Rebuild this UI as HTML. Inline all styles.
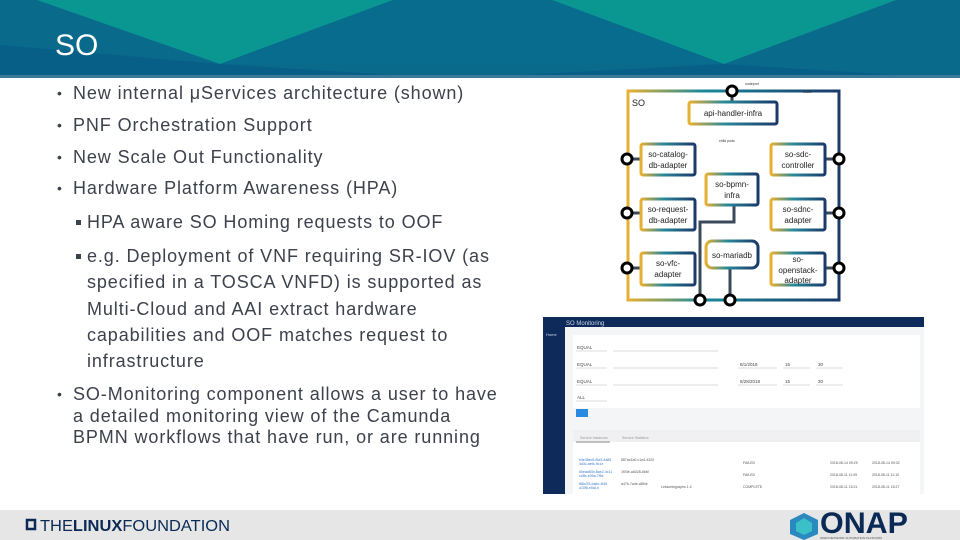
<!DOCTYPE html>
<html><head><meta charset="utf-8"><style>
body{margin:0;width:960px;height:540px;position:relative;overflow:hidden;background:#fff;font-family:"Liberation Sans",sans-serif}
.t{position:absolute;white-space:nowrap;color:#3c414b;font-size:18px;line-height:20px;letter-spacing:0.9px}
.b{position:absolute;color:#3c414b;font-size:14px;line-height:20px}
.s{position:absolute;width:5px;height:5px;background:#3c414b}
</style></head><body>
<svg width="960" height="78" style="position:absolute;left:0;top:0">
<rect width="960" height="78" fill="#0a6a8c"/>
<polygon points="0,0 37,0 220,64 0,40" fill="#0a6a8c"/>
<polygon points="37,0 393,0 220,64" fill="#0a9791"/>
<polygon points="552,0 896,0 724,64" fill="#0a9791"/>
<polygon points="0,75 0,45 220,64 393,75" fill="#075f88"/>
<polygon points="520,75 724,64 896,75" fill="#075f88"/>
<polygon points="393,0 552,0 724,64 220,64" fill="#086c8e"/>
<rect y="75" width="960" height="3" fill="#3a7a98"/>
<text x="55" y="55" fill="#fff" font-family="Liberation Sans" font-size="30">SO</text>
</svg>

<div class="b" style="left:57px;top:83px">•</div><div class="t" style="left:73px;top:83px">New internal μServices architecture (shown)</div>
<div class="b" style="left:57px;top:115px">•</div><div class="t" style="left:73px;top:115px">PNF Orchestration Support</div>
<div class="b" style="left:57px;top:147px">•</div><div class="t" style="left:73px;top:147px">New Scale Out Functionality</div>
<div class="b" style="left:57px;top:178px">•</div><div class="t" style="left:73px;top:178px">Hardware Platform Awareness (HPA)</div>
<div class="s" style="left:76px;top:220px"></div><div class="t" style="left:87px;top:212px">HPA aware SO Homing requests to OOF</div>
<div class="s" style="left:76px;top:254px"></div><div class="t" style="left:87px;top:246px">e.g. Deployment of VNF requiring SR-IOV (as</div>
<div class="t" style="left:87px;top:272px">specified in a TOSCA VNFD) is supported as</div>
<div class="t" style="left:87px;top:299px">Multi-Cloud and AAI extract hardware</div>
<div class="t" style="left:87px;top:325px">capabilities and OOF matches request to</div>
<div class="t" style="left:87px;top:351px">infrastructure</div>
<div class="b" style="left:57px;top:384px">•</div><div class="t" style="left:73px;top:384px">SO-Monitoring component allows a user to have</div>
<div class="t" style="left:73px;top:406px">a detailed monitoring view of the Camunda</div>
<div class="t" style="left:73px;top:427px">BPMN workflows that have run, or are running</div>

<svg width="960" height="540" style="position:absolute;left:0;top:0" font-family="Liberation Sans">
<defs><linearGradient id="g" x1="0" x2="1" y1="0" y2="0"><stop offset="0" stop-color="#e8b030"/><stop offset="0.35" stop-color="#1a8a9a"/><stop offset="1" stop-color="#1a3a6a"/></linearGradient>
<linearGradient id="g2" x1="0" x2="1"><stop offset="0" stop-color="#e8b030"/><stop offset="0.4" stop-color="#2a8a9a"/><stop offset="1" stop-color="#1a3a6a"/></linearGradient></defs>
<rect x="628" y="91" width="211" height="209" fill="none" stroke="url(#g)" stroke-width="3"/>
<g stroke="#3a4a5a" stroke-width="3" fill="none">
<line x1="732" y1="91" x2="732" y2="101"/>
<line x1="628" y1="159" x2="640" y2="159"/><line x1="628" y1="213" x2="640" y2="213"/><line x1="628" y1="268" x2="640" y2="268"/>
<line x1="825" y1="159" x2="839" y2="159"/><line x1="825" y1="213" x2="839" y2="213"/><line x1="825" y1="268" x2="839" y2="268"/>
<polyline points="734,205 734,222 700,222 700,300"/>
<line x1="730" y1="268" x2="730" y2="300"/>
</g>
<g fill="#fff" stroke="url(#g2)" stroke-width="3">
<rect x="689" y="102" width="88" height="22" rx="2"/>
<rect x="641" y="144" width="54" height="31" rx="2"/>
<rect x="771" y="144" width="54" height="31" rx="2"/>
<rect x="706" y="174" width="52" height="31" rx="2"/>
<rect x="641" y="199" width="54" height="31" rx="2"/>
<rect x="771" y="199" width="54" height="31" rx="2"/>
<rect x="641" y="253" width="54" height="32" rx="2"/>
<rect x="706" y="241" width="52" height="27" rx="6"/>
<rect x="771" y="253" width="54" height="32" rx="2"/>
</g>
<g fill="#fff" stroke="#000" stroke-width="3">
<circle cx="732" cy="91" r="5"/>
<circle cx="627" cy="159" r="5"/><circle cx="627" cy="213" r="5"/><circle cx="627" cy="268" r="5"/>
<circle cx="839" cy="159" r="5"/><circle cx="839" cy="213" r="5"/><circle cx="839" cy="268" r="5"/>
<circle cx="700" cy="300" r="5"/><circle cx="730" cy="300" r="5"/>
</g>
<g font-size="8" fill="#222" text-anchor="middle">
<text x="733" y="116">api-handler-infra</text>
<text x="668" y="157">so-catalog-</text><text x="668" y="168">db-adapter</text>
<text x="798" y="157">so-sdc-</text><text x="798" y="168">controller</text>
<text x="732" y="187">so-bpmn-</text><text x="732" y="198">infra</text>
<text x="668" y="212">so-request-</text><text x="668" y="223">db-adapter</text>
<text x="798" y="212">so-sdnc-</text><text x="798" y="223">adapter</text>
<text x="668" y="266">so-vfc-</text><text x="668" y="277">adapter</text>
<text x="732" y="258">so-mariadb</text>
<text x="798" y="262">so-</text><text x="798" y="273">openstack-</text><text x="798" y="283">adapter</text>
</g>
<text x="632" y="106" font-size="9" fill="#222">SO</text>
<g font-size="3.5" fill="#333"><text x="745" y="85">nodeport</text><text x="803" y="93">router</text><text x="719" y="142">child pods</text></g>

<rect x="543" y="317" width="381" height="177" fill="#f4f5f7"/>
<rect x="543" y="317" width="381" height="10" fill="#0d2a5a"/>
<rect x="543" y="317" width="22" height="177" fill="#0d2a5a"/>
<text x="566" y="325" font-size="6" fill="#cfd8e8">SO Monitoring</text>
<text x="546" y="336" font-size="4" fill="#cfd8e8">Home</text>
<rect x="573" y="335" width="347" height="73" fill="#fff"/>
<rect x="576" y="409" width="12" height="8" fill="#2a8ae0"/>
<g stroke="#bbb" stroke-width="0.5">
<line x1="576" y1="351" x2="607" y2="351"/><line x1="613" y1="351" x2="718" y2="351"/>
<line x1="576" y1="368" x2="607" y2="368"/><line x1="613" y1="368" x2="718" y2="368"/>
<line x1="576" y1="385" x2="607" y2="385"/><line x1="613" y1="385" x2="718" y2="385"/>
<line x1="576" y1="401" x2="607" y2="401"/>
<line x1="738" y1="368" x2="777" y2="368"/><line x1="783" y1="368" x2="810" y2="368"/><line x1="816" y1="368" x2="843" y2="368"/>
<line x1="738" y1="385" x2="777" y2="385"/><line x1="783" y1="385" x2="810" y2="385"/><line x1="816" y1="385" x2="843" y2="385"/>
</g>
<g font-size="4.5" fill="#444"><text x="577" y="349">EQUAL</text><text x="577" y="366">EQUAL</text><text x="577" y="383">EQUAL</text><text x="577" y="399">ALL</text>
<text x="740" y="366">8/1/2018</text><text x="740" y="383">8/28/2018</text><text x="785" y="366">15</text><text x="785" y="383">15</text><text x="818" y="366">30</text><text x="818" y="383">30</text></g>
<rect x="573" y="430" width="347" height="64" fill="#fff"/>
<rect x="573" y="430" width="347" height="12" fill="#f0f0f2"/>
<line x1="576" y1="442" x2="610" y2="442" stroke="#888"/>
<g font-size="3.5" fill="#999"><text x="580" y="439">Service Instances</text><text x="622" y="439">Service Statistics</text></g>
<g font-size="3.5" fill="#3a7ad0"><text x="579" y="461">b3e38ec5-f6e3-4a85</text><text x="579" y="465">4d3c-aef4-9c1e</text><text x="579" y="473">60ead83b-8ae2-4c11</text><text x="579" y="477">cd5e-b09a-7f5e</text><text x="579" y="485">f88c2f3-ba6c-4f45</text><text x="579" y="489">a10f8-e5a1d</text></g>
<g font-size="3.5" fill="#555"><text x="621" y="461">587ac1a0-c1e4-4320</text><text x="621" y="473">1f03e-a6028-6b6f</text><text x="621" y="485">a47b-7a4e-a8f4e</text><text x="661" y="488">Lessonlegraphs 1.4</text>
<text x="743" y="464">FAILED</text><text x="743" y="476">FAILED</text><text x="743" y="488">COMPLETE</text>
<text x="830" y="464">2018-08-14 09:29</text><text x="872" y="464">2018-08-14 09:32</text><text x="830" y="476">2018-08-11 11:09</text><text x="872" y="476">2018-08-11 11:10</text><text x="830" y="488">2018-08-11 15:21</text><text x="872" y="488">2018-08-11 15:27</text></g>

<rect x="0" y="510" width="960" height="30" fill="#e6e6e6"/>
<rect x="27" y="520" width="8" height="9" fill="none" stroke="#0a2a55" stroke-width="2.5"/>
<text x="40" y="531" font-size="16" fill="#0a2a55" textLength="190" lengthAdjust="spacingAndGlyphs">THE<tspan font-weight="bold">LINUX</tspan>FOUNDATION</text>
<polygon points="804,513 818,520 818,534 804,540 790,534 790,520" fill="#2a8ac0"/>
<polygon points="804,518 812,523 812,531 804,535 796,531 796,523" fill="#3ac0c8"/>
<text x="820" y="533" font-size="30" font-weight="bold" fill="#0a2a55" textLength="88" lengthAdjust="spacingAndGlyphs">ONAP</text>
<text x="820" y="539" font-size="3" fill="#555">OPEN NETWORK AUTOMATION PLATFORM</text>
</svg>
</body></html>
